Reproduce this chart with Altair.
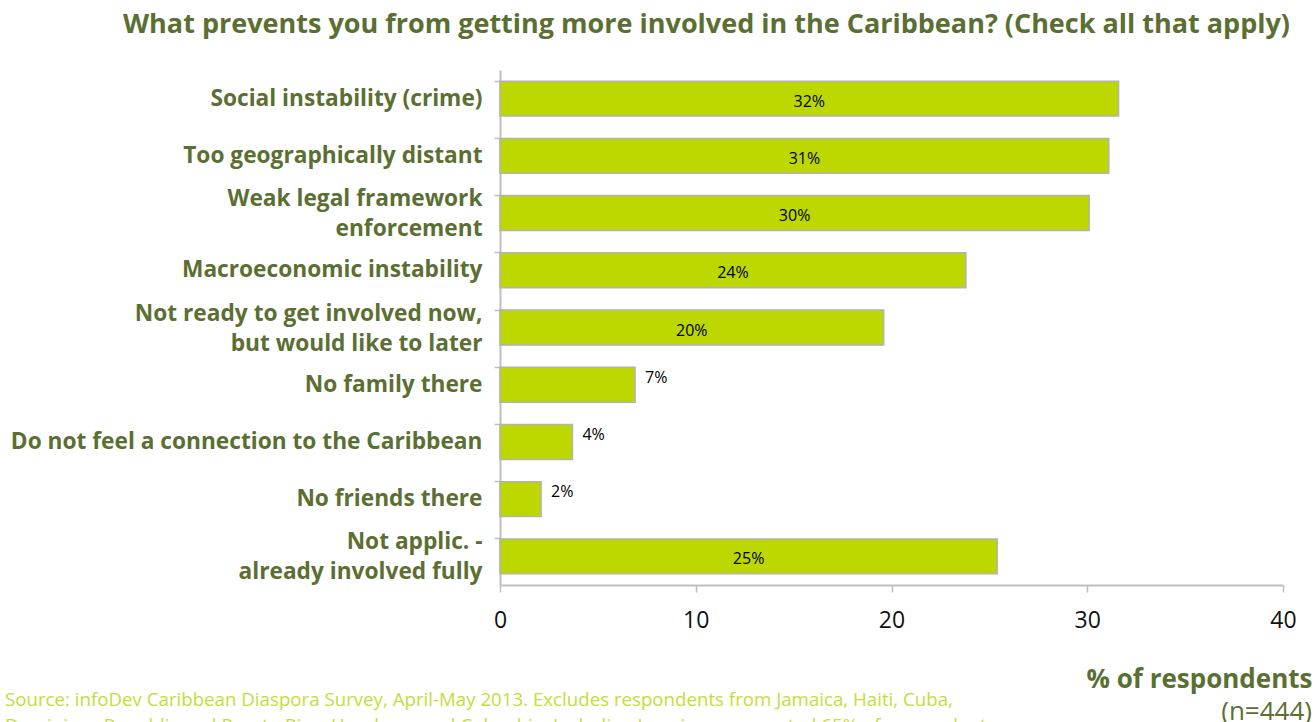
import altair as alt
import pandas as pd

categories = [
    "Social instability (crime)",
    "Too geographically distant",
    "Weak legal framework|enforcement",
    "Macroeconomic instability",
    "Not ready to get involved now,|but would like to later",
    "No family there",
    "Do not feel a connection to the Caribbean",
    "No friends there",
    "Not applic. -|already involved fully",
]
values = [31.6, 31.1, 30.1, 23.8, 19.6, 6.9, 3.7, 2.1, 25.4]
value_labels = ["32%", "31%", "30%", "24%", "20%", "7%", "4%", "2%", "25%"]
x_ticks = [0, 10, 20, 30, 40]

TITLE = "What prevents you from getting more involved in the Caribbean? (Check all that apply)"
SOURCE_1 = "Source: infoDev Caribbean Diaspora Survey, April-May 2013. Excludes respondents from Jamaica, Haiti, Cuba,"
SOURCE_2 = "Dominican Republic and Puerto Rico, Honduras and Colombia. Including Jamaica represented 65% of respondents"

df = pd.DataFrame({"cat": categories, "value": values, "label": value_labels})

OLIVE = "#5b6f32"
BAR = "#bdd700"
GRAY = "#bfbfbf"
PLOT_W = 783
PLOT_H = 515

y_axis = alt.Axis(
    labelExpr="split(datum.label, '|')",
    labelFont="Open Sans",
    labelFontWeight="bold",
    labelFontSize=22.7,
    labelColor=OLIVE,
    labelLineHeight=30,
    labelPadding=12,
    labelLimit=600,
    labelOffset={"condition": {"test": "indexof(datum.value, '|') >= 0", "value": -14}, "value": 0},
    bandPosition=0,
    tickColor=GRAY,
    tickSize=6,
    tickWidth=1.5,
    domainColor=GRAY,
    domainWidth=2,
    grid=False,
)
y_scale = alt.Scale(paddingInner=0.39, paddingOuter=0.195)

x_axis = alt.Axis(
    values=x_ticks,
    labelFlush=False,
    labelFont="Open Sans",
    labelFontSize=23,
    labelColor="#111111",
    labelPadding=17,
    tickColor=GRAY,
    tickSize=7,
    tickWidth=1.5,
    domainColor=GRAY,
    domainWidth=2,
    grid=False,
    titleFont="Open Sans",
    titleFontWeight="bold",
    titleFontSize=26,
    titleColor=OLIVE,
    titleAnchor="end",
    titleAlign="right",
    titleBaseline="alphabetic",
    titleX=PLOT_W + 29,
    titleY=102,
)
x_scale = alt.Scale(domain=[0, 40], nice=False)
X_TITLE = "% of respondents"

bars = alt.Chart(df).mark_bar(color=BAR, stroke="#b3b3b3", strokeWidth=1.5).encode(
    x=alt.X("value:Q", scale=x_scale, title=X_TITLE, axis=x_axis),
    y=alt.Y("cat:N", sort=categories, title=None, scale=y_scale, axis=y_axis),
)

inside = alt.Chart(df).transform_filter(alt.datum.value >= 10).transform_calculate(
    mid="datum.value / 2"
).mark_text(font="Open Sans", fontSize=16, color="#000000", align="center", baseline="middle", dy=3).encode(
    x=alt.X("mid:Q", scale=x_scale, title=X_TITLE, axis=x_axis),
    y=alt.Y("cat:N", sort=categories, title=None, scale=y_scale, axis=y_axis),
    text="label:N",
)

outside = alt.Chart(df).transform_filter(alt.datum.value < 10).mark_text(
    font="Open Sans", fontSize=16, color="#000000", align="left", baseline="middle", dx=10, dy=-7
).encode(
    x=alt.X("value:Q", scale=x_scale, title=X_TITLE, axis=x_axis),
    y=alt.Y("cat:N", sort=categories, title=None, scale=y_scale, axis=y_axis),
    text="label:N",
)

notes = pd.DataFrame({"t": ["(n=444)"]})
n_text = alt.Chart(notes).mark_text(
    font="Open Sans", fontSize=26, color=OLIVE, align="right", baseline="alphabetic"
).encode(x=alt.value(PLOT_W + 29), y=alt.value(PLOT_H + 135), text="t:N")

src = pd.DataFrame({"t": [SOURCE_1 + "\n" + SOURCE_2]})
src_text = alt.Chart(src).mark_text(
    font="Open Sans", fontSize=18.7, color="#c5dc3c", align="left", baseline="alphabetic",
    lineBreak="\n", lineHeight=26,
).encode(x=alt.value(-495), y=alt.value(PLOT_H + 121), text="t:N")

chart = (
    alt.layer(bars, inside, outside, n_text, src_text)
    .properties(
        width=PLOT_W,
        height=PLOT_H,
        padding={"left": 500, "top": 70, "right": 32, "bottom": 137},
        autosize=alt.AutoSizeParams(type="none"),
        view=alt.ViewBackground(stroke="transparent", strokeWidth=0),
        title=alt.TitleParams(
            TITLE,
            anchor="end",
            align="right",
            frame="group",
            font="Open Sans",
            fontWeight="bold",
            fontSize=27,
            color=OLIVE,
            offset=31,
            dx=7,
        ),
    )
    .configure_axis(grid=False)
    .configure_view(strokeWidth=0, stroke="transparent")
    .configure(background="white")
)

chart.save("out.html", embed_options={"renderer": "svg", "actions": False})
